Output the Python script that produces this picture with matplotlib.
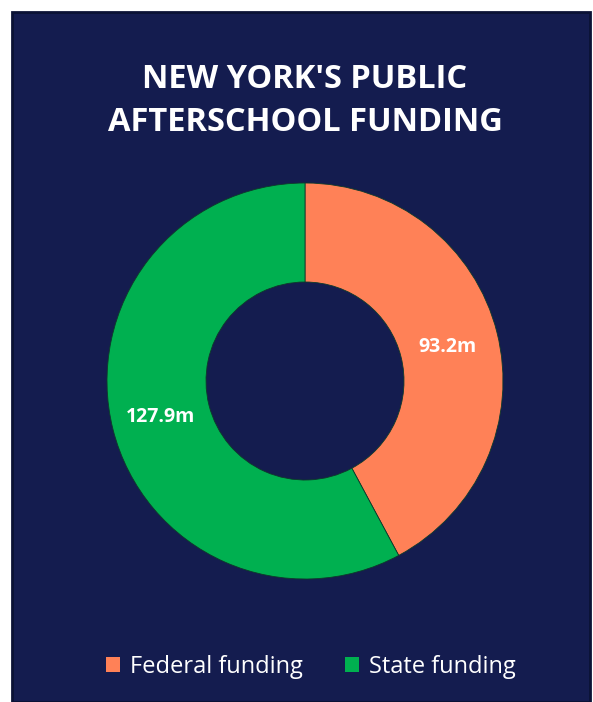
import matplotlib
matplotlib.use("Agg")
import matplotlib.pyplot as plt
from matplotlib.patches import Rectangle, Patch

categories = ["Federal funding", "State funding"]
values = [93.2, 127.9]
labels = ["93.2m", "127.9m"]
colors = ["#FF8157", "#00B050"]

W, H = 593, 702
bg = "#141C4F"

plt.rcParams["font.family"] = ["Open Sans", "DejaVu Sans"]

fig = plt.figure(figsize=(W / 100, H / 100), dpi=100)
fig.patch.set_facecolor("white")
fig.add_artist(Rectangle((12 / W, 0), 578 / W, (H - 12) / H, transform=fig.transFigure,
                         facecolor=bg, edgecolor="#0B1235", linewidth=2, zorder=-1))

# donut: center (305, 381), outer radius ~198 px
cx, cy, r = 305, 381, 198
ax = fig.add_axes([(cx - r) / W, (H - cy - r) / H, 2 * r / W, 2 * r / H])
ax.set_facecolor("none")
wedges, _ = ax.pie(values, colors=colors, startangle=90, counterclock=False,
                   wedgeprops=dict(width=0.5, edgecolor="#0E3A2A", linewidth=0.6))
ax.set_aspect("equal")
ax.set_xlim(-1, 1)
ax.set_ylim(-1, 1)

ax.text(0.72, 0.17, labels[0], color="white", fontsize=14, fontweight="bold",
        ha="center", va="center")
ax.text(-0.73, -0.18, labels[1], color="white", fontsize=14, fontweight="bold",
        ha="center", va="center")

fig.text(cx / W, 1 - 101 / H, "NEW YORK'S PUBLIC\nAFTERSCHOOL FUNDING", color="white",
         fontsize=23.5, fontweight="bold", ha="center", va="center", linespacing=1.4)

handles = [Patch(facecolor=c, edgecolor="none") for c in colors]
fig.legend(handles, categories, loc="center", bbox_to_anchor=(cx / W + 0.01, 1 - 667 / H),
           ncol=2, frameon=False, fontsize=17, labelcolor="white",
           handlelength=0.6, handleheight=0.6, handletextpad=0.4, columnspacing=1.8)

fig.savefig("out.png", dpi=100, facecolor=fig.get_facecolor())
